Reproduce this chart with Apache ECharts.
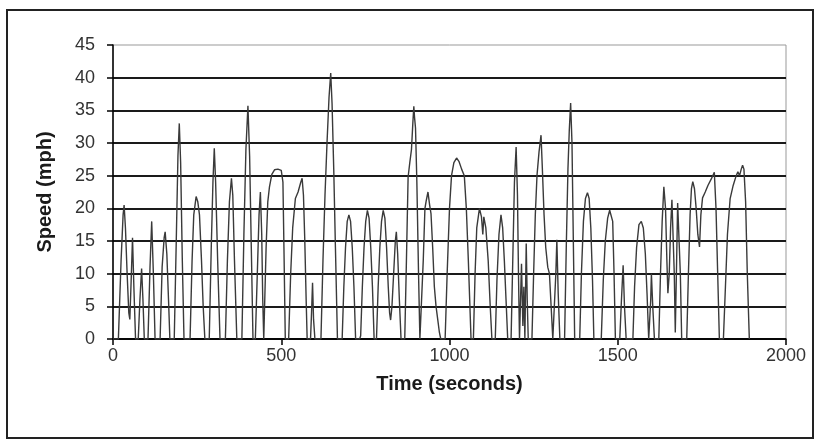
<!DOCTYPE html>
<html>
<head>
<meta charset="utf-8">
<script src="https://cdn.jsdelivr.net/npm/echarts@6/dist/echarts.min.js"></script>
<style>
html,body{margin:0;padding:0;background:#fff;}
#chart{width:819px;height:442px;}
</style>
</head>
<body>
<div id="chart"></div>
<script>
// Time (s)
var times = [0,16,24,30,33,37,42,47,50,54,58,62,67,
75,80,85,89,93,
104,110,115,120,125,
140,146,152,155,160,165,169,
182,188,193,197,201,206,211,
229,235,240,247,252,257,263,268,273,
286,292,297,301,305,311,318,
334,340,346,352,356,361,368,
383,389,395,401,406,411,416,
423,430,434,438,442,445,448,
451,455,460,465,472,480,490,500,505,508,512,
522,528,534,542,550,558,562,566,570,574,577,
587,590,593,596,600,
618,624,630,636,642,647,651,656,661,667,
681,686,691,696,701,706,711,716,721,
733,736,741,746,751,756,761,766,771,776,
783,788,793,798,803,808,813,818,822,825,829,834,839,842,846,851,856,860,
867,872,877,882,887,891,894,896,899,903,908,912,
917,922,927,931,936,941,945,950,955,960,965,970,974,
987,993,1000,1006,1013,1021,1028,1036,1044,1050,1056,1064,
1071,1076,1081,1089,1095,1099,1102,1108,1115,1121,1126,
1136,1141,1147,1153,1158,1163,1168,1173,
1183,1188,1193,1198,1202,1205,1208,
1211,1214,1218,1221,1224,1228,1231,1234,
1245,1250,1255,1260,1266,1272,1276,1281,1286,1292,1297,1302,1307,
1312,1316,1319,1323,1328,
1342,1347,1352,1356,1360,1364,1368,1372,
1387,1392,1398,1404,1410,1415,1420,1425,1429,
1451,1457,1463,1470,1476,1481,1485,1489,1493,
1506,1511,1516,1520,1525,
1545,1550,1556,1563,1570,1576,1582,1587,1592,
1595,1598,1600,1604,1609,
1622,1627,1632,1637,1642,1646,1649,1653,1657,1661,1665,1668,1671,1675,1678,1682,1686,1690,
1705,1710,1715,1719,1723,1728,1733,1738,1743,1747,1752,1760,1768,1778,1787,1792,1797,1802,
1814,1820,1826,1834,1843,1852,1857,1862,1867,1871,1875,1880,1885,1891];

// Speed (mph)
var speeds = [0,0,12,19,20.5,17,10,4,3,9,15.5,8,0,
0,6,10.8,6,0,
0,11,18,10,0,
0,11,15.5,16.4,13,6,0,
0,15,28,33,27,12,0,
0,12,19,21.8,21,19,12,5,0,
0,14,24,29.2,24,12,0,
0,12,21,24.6,22,12,0,
0,16,29,35.7,28,14,0,
0,12,19,22.5,16,6,0,
0,14,21,23.3,25.2,25.9,26,25.8,24,14,0,
0,10,17,21.5,22.5,24,24.6,22,15,6,0,
0,4,8.6,3,0,
0,12,22,30,37,40.7,36,26,14,0,
0,8,14,18,19,18,14,8,0,
0,0.5,8,14,18,19.7,18.5,14,8,0,
0,8,14,18,19.7,18.5,14,8,4,2.9,5,10,15,16.4,13,6,0,0,
0,12,24.8,27,29,33,35.6,34,32.3,24,10,0,
0,12,20,21.2,22.5,20.5,19.2,14,8,5,3,1,0,
0,10,20,25,27,27.7,27.2,26,25,20,12,0,
0,10,17,20,18.7,16,18.7,17,12,5,0,
0,9,16,19,17,12,6,0,
0,12,24,29.4,22,10,0,
0,11.5,2,8,0,14.6,6,0,
0,10,19,25,28.6,31.2,26,19,14,11,10,5,0,
0,10,15.2,7,0,
0,14,26,32,36.1,30,15,0,
0,10,18,21.5,22.4,21.5,17,9,0,
0,9,15,18.5,19.7,20,18,10,0,
0,6,11.3,5,0,
0,8,14,17.5,18,17,13,7,0,
0,6,10,5,0,
0,10,18,23.3,20,12,7,10,17,21.3,21.4,10,1,12,20.8,20.8,10,0,
0,10,19,23,24.1,23,20,16,14.1,19,21.6,22.5,23.5,24.5,25.5,20,10,0,
0,8,16,21.5,23.5,25,25.6,25,26,26.6,26,21,10,0];

var xTicks = [0, 500, 1000, 1500, 2000];
var yTicks = [0, 5, 10, 15, 20, 25, 30, 35, 40, 45];

var data = times.map(function (t, i) { return [t, speeds[i]]; });

var chart = echarts.init(document.getElementById('chart'), null, {renderer: 'canvas'});
var font = '"Liberation Sans", Arial, sans-serif';
chart.setOption({
  animation: false,
  backgroundColor: '#fff',
  graphic: [{
    type: 'rect',
    shape: {x: 7, y: 10, width: 806, height: 428},
    style: {fill: 'none', stroke: '#222', lineWidth: 2},
    silent: true
  }],
  grid: {left: 113, top: 45, right: 33, bottom: 103, show: true, borderColor: '#999', borderWidth: 1},
  xAxis: {
    type: 'value',
    min: xTicks[0], max: xTicks[xTicks.length - 1], interval: xTicks[1] - xTicks[0],
    name: 'Time (seconds)',
    nameLocation: 'middle',
    nameGap: 35,
    nameTextStyle: {fontFamily: font, fontSize: 20, fontWeight: 'bold', color: '#1a1a1a'},
    axisLine: {show: true, lineStyle: {color: '#000', width: 1.5}},
    axisTick: {show: true, length: 6, lineStyle: {color: '#000', width: 1.5}},
    axisLabel: {fontFamily: font, fontSize: 18, color: '#333', margin: 8,
      formatter: function (v) { return String(v); }},
    splitLine: {show: false}
  },
  yAxis: {
    type: 'value',
    min: yTicks[0], max: yTicks[yTicks.length - 1], interval: yTicks[1] - yTicks[0],
    name: 'Speed (mph)',
    nameLocation: 'middle',
    nameGap: 58,
    nameRotate: 90,
    nameTextStyle: {fontFamily: font, fontSize: 20, fontWeight: 'bold', color: '#1a1a1a'},
    axisLine: {show: true, lineStyle: {color: '#000', width: 1.5}},
    axisTick: {show: true, length: 6, lineStyle: {color: '#000', width: 1.5}},
    axisLabel: {fontFamily: font, fontSize: 18, color: '#333', margin: 18,
      formatter: function (v) { return String(v); }},
    splitLine: {show: true, showMaxLine: false, lineStyle: {color: '#1a1a1a', width: 2}}
  },
  series: [{
    type: 'line',
    data: data,
    showSymbol: false,
    symbol: 'none',
    lineStyle: {color: '#3a3a3a', width: 1.4},
    z: 3
  }]
});
</script>
</body>
</html>
